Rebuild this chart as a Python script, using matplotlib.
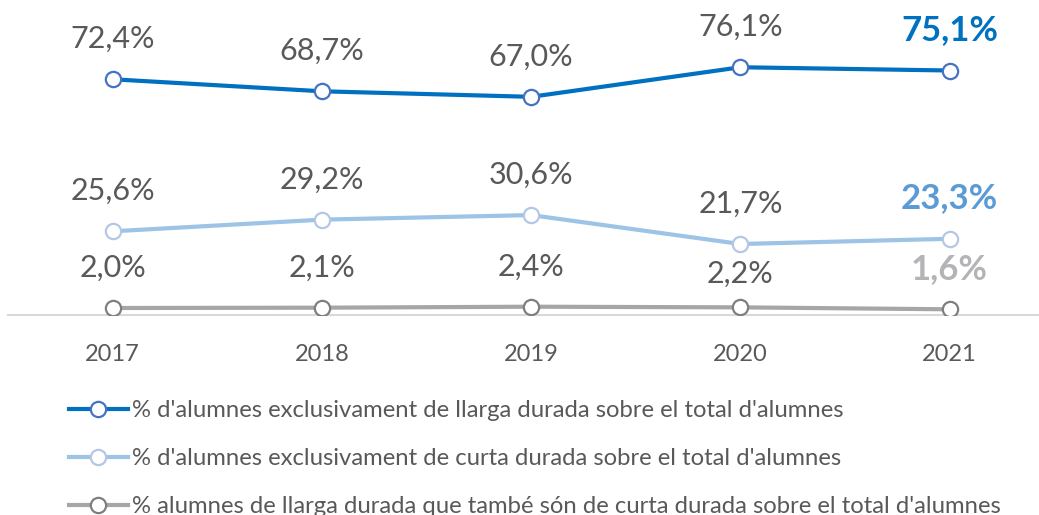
import matplotlib
matplotlib.use("Agg")
import matplotlib.pyplot as plt

plt.rcParams["font.family"] = ["Lato", "DejaVu Sans"]

years = ["2017", "2018", "2019", "2020", "2021"]
llarga = [72.4, 68.7, 67.0, 76.1, 75.1]
curta = [25.6, 29.2, 30.6, 21.7, 23.3]
ambdues = [2.0, 2.1, 2.4, 2.2, 1.6]
series_names = [
    "% d'alumnes exclusivament de llarga durada sobre el total d'alumnes",
    "% d'alumnes exclusivament de curta durada sobre el total d'alumnes",
    "% alumnes de llarga durada que també són de curta durada sobre el total d'alumnes",
]

line_colors = ["#0070C0", "#9DC3E6", "#A6A6A6"]
edge_colors = ["#4472C4", "#B4C7E7", "#7F7F7F"]
last_colors = ["#0070C0", "#5B9BD5", "#B4B4B8"]
label_gray = "#595959"

fig = plt.figure(figsize=(10.39, 5.15), dpi=100)
ax = fig.add_axes([8 / 1039, 1 - 314.5 / 515, 1 - 8 / 1039, 314.5 / 515])

x = list(range(len(years)))
for vals, name, lc, ec, hc in zip([llarga, curta, ambdues], series_names,
                                  line_colors, edge_colors, last_colors):
    ax.plot(x, vals, color=lc, lw=3, marker="o", ms=11, mfc="white",
            mec=ec, mew=1.6, label=name, zorder=3)
    for i, v in enumerate(vals):
        last = i == len(vals) - 1
        dy = 29
        if vals is ambdues and i == 3:
            dy = 24
        ax.annotate(f"{v:.1f}%".replace(".", ","), (i, v), xytext=(0, dy),
                    textcoords="offset points", ha="center", va="center",
                    fontsize=25 if last else 22,
                    color=hc if last else label_gray,
                    fontweight="bold" if last else "normal")

ax.set_xlim(-0.5, 4.427)
ax.set_ylim(0, 96.8)
ax.set_xticks(x, years)
ax.set_yticks([])
ax.tick_params(axis="x", length=0, pad=21, labelsize=17, labelcolor=label_gray)
for s in ["top", "right", "left"]:
    ax.spines[s].set_visible(False)
ax.spines["bottom"].set_color("#D9D9D9")
ax.spines["bottom"].set_linewidth(1.5)
ax.patch.set_alpha(0)

fig.legend(loc="upper left", bbox_to_anchor=(69 / 1039, 1 - 400 / 515),
           frameon=False, fontsize=17.2, labelcolor=label_gray,
           handlelength=2.45, handletextpad=0.2, labelspacing=1.14,
           borderpad=0, borderaxespad=0)

fig.savefig("out.png", dpi=100)
